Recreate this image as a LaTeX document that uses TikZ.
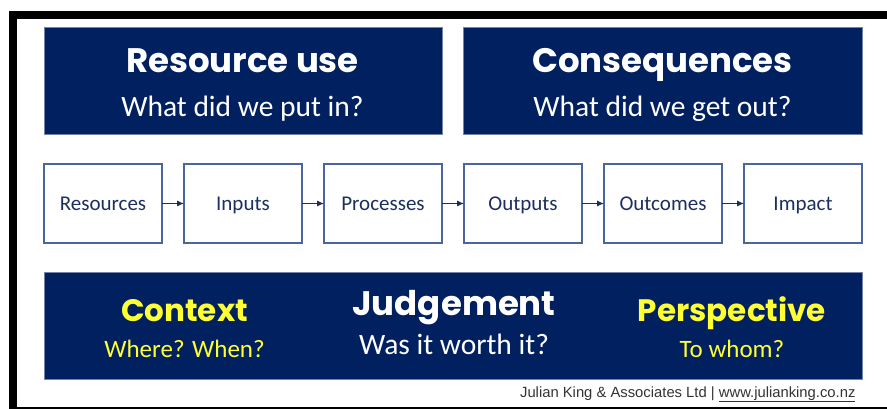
\documentclass[tikz,border=0pt]{standalone}
\usepackage{fontspec}
\setmainfont{Carlito}
\newfontfamily\headfont{Poppins}
\newfontfamily\footfont{Liberation Sans}
\usepackage{xcolor}
\usepackage{tikz}
\usetikzlibrary{arrows.meta,positioning}

\definecolor{navy}{HTML}{002060}
\definecolor{boxline}{HTML}{4A66A0}
\definecolor{boxtext}{HTML}{1C2F5E}
\definecolor{hiyellow}{HTML}{FFFF33}
\definecolor{footgray}{HTML}{333333}

\begin{document}
\begin{tikzpicture}[x=1pt, y=-1pt,
  panel/.style={draw=navy!55!white, line width=0.6pt, fill=navy, anchor=north west, inner sep=0pt},
  stage/.style={draw=boxline, line width=1.1pt, fill=white, minimum width=118pt, minimum height=79pt, inner sep=0pt, outer sep=0pt, text height=14pt, text depth=0pt, text=boxtext, font=\fontsize{21}{21}\selectfont},
  head/.style={anchor=base, text=white, font=\headfont\bfseries\fontsize{34}{34}\selectfont},
  sidehead/.style={head, text=hiyellow, font=\headfont\bfseries\fontsize{31}{31}\selectfont},
  sub/.style={anchor=base, text=white, font=\fontsize{29.5}{30}\selectfont},
  sidesub/.style={sub, text=hiyellow, font=\fontsize{25}{25}\selectfont},
  flow/.style={-{Latex[length=7pt,width=6pt]}, line width=1pt, draw=boxtext}]
  \useasboundingbox (0,0) rectangle (887,409);

  % Frame
  \fill[black] (9,11) rectangle (887,409);
  \fill[white] (17,19) rectangle (887,407);

  % Panels
  \node (use) [panel, minimum width=398pt, minimum height=107pt] at (44,27) {};
  \node (cons) [panel, minimum width=399pt, minimum height=107pt] at (463,27) {};
  \node (judge) [panel, minimum width=818pt, minimum height=107pt] at (44,272) {};

  \node (usehead) [head] at (242.5,73) {Resource use};
  \node (usesub) [sub] at (242.5,117) {What did we put in?};
  \node (conshead) [head] at (662.5,73) {Consequences};
  \node (conssub) [sub] at (662.5,117) {What did we get out?};

  \node (ctxhead) [sidehead] at (184.5,321) {Context};
  \node (ctxsub) [sidesub] at (184.5,357) {Where? When?};
  \node (judgehead) [head] at (454,315) {Judgement};
  \node (judgesub) [sub] at (454,354) {Was it worth it?};
  \node (perhead) [sidehead] at (732,321) {Perspective};
  \node (persub) [sidesub] at (732,357) {To whom?};

  % Stages
  \node (resources) [stage] at (103,203.5) {Resources};
  \node (inputs) [stage, right=22pt of resources] {Inputs};
  \node (processes) [stage, right=22pt of inputs] {Processes};
  \node (outputs) [stage, right=22pt of processes] {Outputs};
  \node (outcomes) [stage, right=22pt of outputs] {Outcomes};
  \node (impact) [stage, right=22pt of outcomes] {Impact};

  % Edges
  \draw[flow] (resources) -- (inputs);
  \draw[flow] (inputs) -- (processes);
  \draw[flow] (processes) -- (outputs);
  \draw[flow] (outputs) -- (outcomes);
  \draw[flow] (outcomes) -- (impact);

  % Credit line
  \node (credit) [anchor=base east, text=footgray, font=\footfont\fontsize{14.8}{15}\selectfont] at (859,397) {Julian King \& Associates Ltd | \underline{www.julianking.co.nz}};
\end{tikzpicture}
\end{document}
